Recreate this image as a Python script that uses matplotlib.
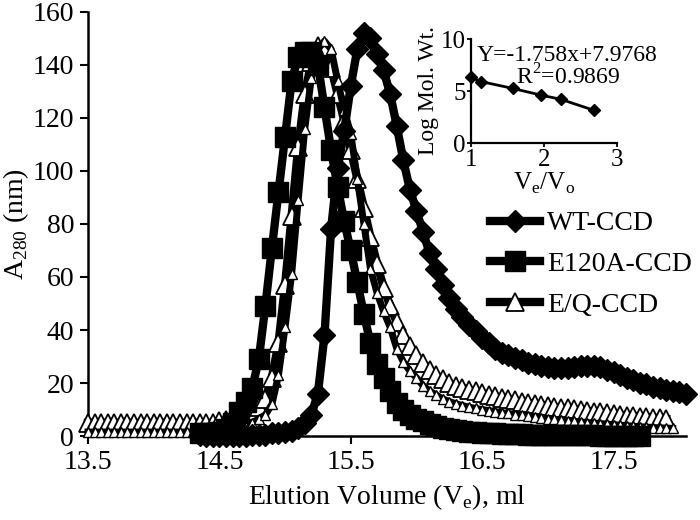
import numpy as np
import matplotlib
matplotlib.use('Agg')
import matplotlib.pyplot as plt

plt.rcParams['font.family'] = ['Liberation Serif', 'DejaVu Serif']
plt.rcParams['mathtext.fontset'] = 'custom'
plt.rcParams['mathtext.rm'] = 'Liberation Serif'

# readings every 0.05 ml, starting volume given per trace
STEP = 0.05

WT_START = 14.35
WT_A280 = [0.5, 0, 0, 0, 0, 0, 0, 0, 0.5, 0.5, 0.5, 1, 1,
           1.5, 2, 3, 5, 8, 16, 38, 78, 101, 115, 132, 146, 152, 150, 144, 138, 129, 117, 104, 93,
           85, 77, 69, 63, 57, 52, 48, 45, 42, 39.5, 37, 35, 33, 31.5, 30.5, 29.5, 28.5, 27.5, 27, 26.5,
           26, 25.5, 25.5, 25.5, 26, 26.5, 26.5, 26.5, 26, 25, 24, 23, 22, 21, 20, 19.5, 18.5, 18, 17.5, 17,
           16.5, 16]

E120A_START = 14.35
E120A_A280 = [1, 1, 1, 1.5, 2.5, 5, 9, 13, 18, 29, 49, 71, 92,
              113, 134, 143, 145, 145, 140, 124, 108, 94, 81, 70, 58, 46, 35, 27, 22, 17, 12.5, 10, 8,
              6.5, 5.5, 4.5, 3.8, 3.2, 2.7, 2.3, 2, 1.7, 1.5, 1.3, 1.1, 1, 0.9, 0.8, 0.7, 0.6, 0.5, 0.5, 0.4,
              0.4, 0.3, 0.3, 0.3, 0.2, 0.2, 0.2, 0.2, 0.1, 0.1, 0.1, 0.1, 0.1, 0.1, 0.1]

EQ_START = 13.50
EQ_A280 = [5, 5, 5, 5, 5, 5, 5, 5, 5, 5,
           5, 5, 5, 5, 5, 5, 5, 5, 5, 5,
           5.5, 6, 6.5, 7, 8, 9.5, 11, 14, 22, 35,
           57, 83, 109, 129, 141, 147, 146, 139, 129, 119, 108, 97, 86, 75, 65, 56, 49, 43, 38, 34,
           30.5, 27.5, 25, 23, 21.5, 20, 19, 18.2, 17.5, 16.8, 16.2, 15.6, 15, 14.5, 14, 13.5, 13, 12.6,
           12.2, 11.8,
           11.4, 11, 10.7, 10.4, 10.1, 9.8, 9.5, 9.2, 8.9, 8.6, 8.3, 8.0, 7.7, 7.5, 7.3, 7.1, 6.9, 6.7,
           6.5]

# second triangle trace (no legend entry)
EQ2_START = 13.50
EQ2_A280 = [1.5, 1.5, 1.5, 1.5, 1.5, 1.5, 1.5, 1.5, 1.5, 1.5, 1.5,
            1.5, 1.5, 1.5, 1.5, 1.5, 1.5, 1.5, 1.5, 1.5, 1.5, 1.5,
            2, 2.5, 3.5, 5, 6.5, 8, 12, 23,
            41, 61, 89, 116, 135, 146, 149, 146, 134, 123, 114, 97, 80, 63, 54, 47, 41, 33, 28, 24.5,
            22, 19, 17, 15.5, 14, 13, 12.2, 11.5, 10.9, 10.4, 10, 9.6, 9.2, 8.8, 8.5, 8.1, 7.8, 7.5,
            7.2, 6.9,
            6.6, 6.3, 6.0, 5.8, 5.5, 5.3, 5.1, 4.9, 4.7, 4.5, 4.3, 4.1, 3.9, 3.7, 3.5, 3.4, 3.2, 3.1,
            3.0, 2.9]

# calibration inset
CAL_VE_VO = [1.0, 1.14, 1.57, 1.96, 2.23, 2.68]
CAL_LOG_MW = [6.3, 5.9, 5.25, 4.6, 4.2, 3.15]


def volumes(start, values):
    return start + STEP * np.arange(len(values))


fig = plt.figure(figsize=(7, 5.2), dpi=100)
ax = fig.add_axes([0.1257, 0.1615, 0.854, 0.8155])

h_eq, = ax.plot(volumes(EQ_START, EQ_A280), EQ_A280, color='black', lw=6,
                marker='^', ms=13, mfc='white', mec='black', mew=1.3,
                clip_on=False, zorder=3)
ax.plot(volumes(EQ2_START, EQ2_A280), EQ2_A280, color='black', lw=5,
        marker='^', ms=7, mfc='white', mec='black', mew=1.0,
        clip_on=False, zorder=4)
h_e120a, = ax.plot(volumes(E120A_START, E120A_A280), E120A_A280, color='black', lw=6,
                   marker='s', ms=15, mfc='black', mec='black',
                   clip_on=False, zorder=5)
h_wt, = ax.plot(volumes(WT_START, WT_A280), WT_A280, color='black', lw=6,
                marker='D', ms=11, mfc='black', mec='black',
                clip_on=False, zorder=6)

ax.set_xlim(13.5, 18.05)
ax.set_ylim(0, 160)
ax.set_xticks([13.5, 14.5, 15.5, 16.5, 17.5])
ax.set_yticks(range(0, 161, 20))
for side in ['top', 'right']:
    ax.spines[side].set_visible(False)
for side in ['left', 'bottom']:
    ax.spines[side].set_linewidth(1.8)
ax.tick_params(direction='out', length=6, width=1.5, labelsize=20, pad=4)
ax.set_xlabel(r'Elution Volume (V$_\mathregular{e}$), ml', fontsize=20, labelpad=5)
ax.set_ylabel(r'A$_\mathregular{280}$ (nm)', fontsize=20, labelpad=1)

fig.legend([h_wt, h_e120a, h_eq], ['WT-CCD', 'E120A-CCD', 'E/Q-CCD'],
           loc='upper left', bbox_to_anchor=(490 / 700, 1 - 211 / 520),
           bbox_transform=fig.transFigure, frameon=False, fontsize=20,
           handlelength=1.8, handletextpad=0.25, labelspacing=0.55,
           borderpad=0, borderaxespad=0)

# inset: calibration curve
ax2 = fig.add_axes([0.673, 0.725, 0.2086, 0.2])
ax2.plot(CAL_VE_VO, CAL_LOG_MW, color='black', lw=2, marker='D', ms=6,
         clip_on=False)
ax2.set_xlim(1, 3)
ax2.set_ylim(0, 10)
ax2.set_xticks([1, 2, 3])
ax2.set_yticks([0, 5, 10])
for side in ['top', 'right']:
    ax2.spines[side].set_visible(False)
for side in ['left', 'bottom']:
    ax2.spines[side].set_linewidth(1.6)
ax2.tick_params(direction='out', length=3, width=1.3, labelsize=18, pad=1)
ax2.set_xlabel(r'V$_\mathregular{e}$/V$_\mathregular{o}$', fontsize=18, labelpad=0)
ax2.set_ylabel('Log Mol. Wt.', fontsize=17, labelpad=1)
ax2.text(1.08, 8.46, 'Y=-1.758x+7.9768', fontsize=17, ha='left', va='center')
ax2.text(2.33, 6.35, r'R$^\mathregular{2}$=0.9869', fontsize=17, ha='center', va='center')

fig.savefig('out.png', dpi=100)
